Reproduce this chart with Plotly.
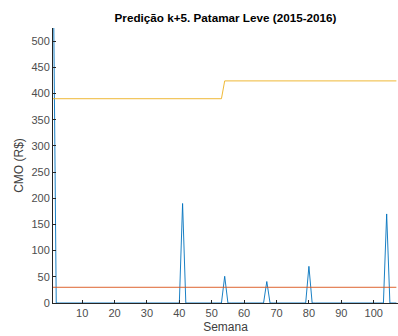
import plotly.graph_objects as go

semanas = list(range(1, 108))
spikes = {1: 700, 41: 190, 54: 51, 67: 41, 80: 70, 104: 170}
cmo_previsto = [spikes.get(s, 0) for s in semanas]
cmo_limite_inf = [30 for s in semanas]
cmo_limite_sup = [390 if s <= 53 else 424 for s in semanas]

title_text = "Predição k+5. Patamar Leve (2015-2016)"
x_ticks = [10, 20, 30, 40, 50, 60, 70, 80, 90, 100]
y_ticks = [0, 50, 100, 150, 200, 250, 300, 350, 400, 450, 500]

fig = go.Figure()
fig.add_trace(go.Scatter(x=semanas, y=cmo_previsto, mode="lines",
                         line=dict(color="#0072BD", width=0.9)))
fig.add_trace(go.Scatter(x=semanas, y=cmo_limite_inf, mode="lines",
                         line=dict(color="#D95319", width=0.9)))
fig.add_trace(go.Scatter(x=semanas, y=cmo_limite_sup, mode="lines",
                         line=dict(color="#EDB120", width=0.9)))

font_family = "Liberation Sans, Arial, sans-serif"
fig.update_layout(
    width=398, height=336,
    margin=dict(l=53, r=0, t=28, b=33),
    paper_bgcolor="white", plot_bgcolor="white",
    showlegend=False,
    font=dict(family=font_family, size=11, color="#4d4d4d"),
    title=dict(text="<b>" + title_text + "</b>", x=(53 + 398) / 2 / 398, xanchor="center",
               y=1 - 18 / 336, yanchor="middle",
               font=dict(family=font_family, size=11.7, color="#000000")),
    xaxis=dict(range=[1, 107.5], tickvals=x_ticks, ticks="inside", ticklen=3,
               tickcolor="#262626", showline=True, linecolor="#262626", linewidth=1,
               showgrid=False, zeroline=False,
               title=dict(text="Semana", standoff=4, font=dict(size=12, color="#404040"))),
    yaxis=dict(range=[0, 525], tickvals=y_ticks, ticks="inside", ticklen=3,
               tickcolor="#262626", showline=True, linecolor="#262626", linewidth=1,
               showgrid=False, zeroline=False,
               title=dict(text="CMO (R$)", standoff=5, font=dict(size=12, color="#404040"))),
)

fig.write_html("out.html")
